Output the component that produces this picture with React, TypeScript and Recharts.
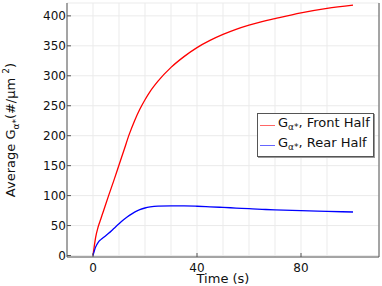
import { LineChart, Line, XAxis, YAxis, CartesianGrid, Legend } from 'recharts';

const time = [0, 1, 2, 3, 4, 6, 8, 10, 12, 14, 16, 18, 20, 22, 25, 30, 35, 40, 45, 50, 55, 60, 65, 70, 80, 90, 100];
const frontHalf = [0, 30, 48, 61, 74, 100, 125, 151, 177, 203, 225, 244, 260, 274, 291, 314, 332, 347, 359, 369, 377.5, 384.5, 390.5, 395.5, 405, 412.5, 418];
const rearHalf = [0, 14, 22, 26.5, 30, 37, 45, 53, 60.5, 67, 72.5, 76.5, 79.3, 81, 82.4, 83, 82.8, 82.2, 81.3, 80.3, 79.2, 78.1, 77.1, 76.2, 74.9, 73.7, 72.6];

const xTicks = [0, 40, 80];
const xGridTicks = [-10, 0, 10, 20, 30, 40, 50, 60, 70, 80, 90, 100, 110];
const yTicks = [0, 50, 100, 150, 200, 250, 300, 350, 400];

const seriesLabels = [', Front Half', ', Rear Half'];
const seriesColors = ['#ff0000', '#0000ff'];

const data = time.map((t, i) => ({ t, front: frontHalf[i], rear: rearHalf[i] }));

const FONT = 'DejaVu Sans, sans-serif';
const AXIS = '#555';

const LegendBox = ({ payload }: any) => (
  <div
    style={{
      border: `1px solid ${AXIS}`,
      background: '#fff',
      boxShadow: '1px 1px 0 #999',
      fontFamily: FONT,
      fontSize: 13,
      color: '#111',
      padding: '1px 3px 1px 2px',
      lineHeight: '16px',
    }}
  >
    {(payload || []).map((p: any, i: number) => (
      <div key={i} style={{ display: 'flex', alignItems: 'center', whiteSpace: 'nowrap' }}>
        <span style={{ display: 'inline-block', width: 15, height: 1, background: p.color, opacity: 0.6, marginRight: 3 }} />
        <span>
          G<sub style={{ fontSize: 9, verticalAlign: '-3px' }}>α*</sub>
          {seriesLabels[i]}
        </span>
      </div>
    ))}
  </div>
);

const YLabel = ({ viewBox }: any) => {
  const x = viewBox.x + 15;
  const y = viewBox.y + viewBox.height / 2;
  return (
    <text x={x} y={y} transform={`rotate(-90 ${x} ${y})`} textAnchor="middle" fontFamily={FONT} fontSize={13} fill="#111">
      Average G
      <tspan fontSize={9} dy={4}>α*</tspan>
      <tspan dy={-4}>(#/μm </tspan>
      <tspan fontSize={9} dy={-6}>2</tspan>
      <tspan dy={6}>)</tspan>
    </text>
  );
};

const XLabel = ({ viewBox }: any) => (
  <text x={viewBox.x + viewBox.width / 2} y={viewBox.y + 26} textAnchor="middle" fontFamily={FONT} fontSize={13} fill="#111">
    Time (s)
  </text>
);

export default function App() {
  const tickStyle = { fontFamily: FONT, fontSize: 12, fill: '#111' };
  return (
    <div style={{ position: 'fixed', left: 0, top: 0, background: '#fff' }}>
      <LineChart width={382} height={286} data={data} margin={{ top: 3, right: 0, left: 0, bottom: 0 }}>
        <CartesianGrid xAxisId="grid" stroke="#ebebeb" strokeWidth={1} />
        <XAxis xAxisId="grid" dataKey="t" type="number" domain={[-10, 110]} ticks={xGridTicks} hide />
        <XAxis
          dataKey="t"
          type="number"
          domain={[-10, 110]}
          ticks={xTicks}
          height={29}
          tick={tickStyle}
          tickSize={-4}
          tickMargin={10}
          stroke={AXIS}
          label={<XLabel />}
        />
        <XAxis
          xAxisId="top"
          orientation="top"
          dataKey="t"
          type="number"
          domain={[-10, 110]}
          ticks={xTicks}
          height={0}
          tick={false}
          tickSize={-4}
          stroke={AXIS}
        />
        <YAxis
          type="number"
          domain={[-2.5, 421.5]}
          ticks={yTicks}
          width={67}
          tick={tickStyle}
          tickSize={-4}
          tickMargin={5}
          stroke={AXIS}
          label={<YLabel />}
        />
        <YAxis
          yAxisId="right"
          orientation="right"
          type="number"
          domain={[-2.5, 421.5]}
          ticks={yTicks}
          width={3}
          tick={false}
          tickSize={-4}
          stroke={AXIS}
        />
        <Legend
          layout="vertical"
          align="center"
          verticalAlign="middle"
          content={<LegendBox />}
          wrapperStyle={{ left: 257, top: 113, width: 'auto' }}
        />
        <Line dataKey="front" name="Front Half" stroke={seriesColors[0]} strokeWidth={1.3} dot={false} type="monotone" isAnimationActive={false} />
        <Line dataKey="rear" name="Rear Half" stroke={seriesColors[1]} strokeWidth={1.3} dot={false} type="monotone" isAnimationActive={false} />
      </LineChart>
    </div>
  );
}
